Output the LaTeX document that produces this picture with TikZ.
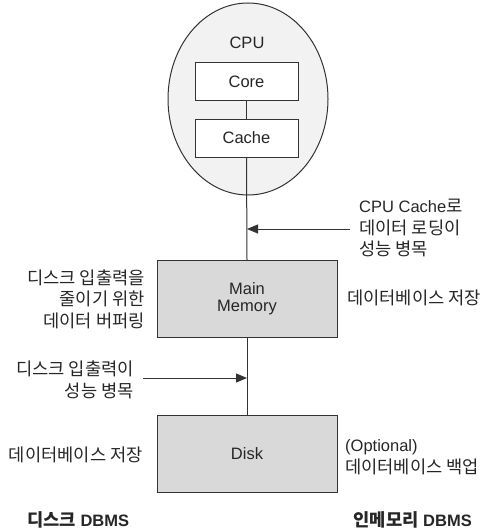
\documentclass[tikz,border=0pt]{standalone}
\usepackage{fontspec}
\setmainfont{Liberation Sans}
\newfontfamily\kr{Noto Sans CJK KR}[Scale=1.07]
\usetikzlibrary{shapes.geometric,arrows.meta}
\definecolor{txt}{HTML}{262626}
\definecolor{ln}{HTML}{333333}
\definecolor{cpufill}{HTML}{F2F2F2}
\definecolor{boxfill}{HTML}{D9D9D9}
\tikzset{
  base/.style={font=\fontsize{16.5}{21.5}\selectfont, text=txt},
  cpushape/.style={ellipse, draw=ln, line width=1pt, fill=cpufill, minimum width=160pt, minimum height=192pt, inner sep=0pt, outer sep=0pt},
  smallbox/.style={base, draw=ln, line width=1pt, fill=white, minimum width=103pt, minimum height=38pt, inner sep=0pt, outer sep=0pt},
  bigbox/.style={base, draw=ln, line width=1pt, fill=boxfill, minimum width=180pt, minimum height=77pt, inner sep=0pt, outer sep=0pt, align=center, font=\fontsize{16.5}{17.5}\selectfont},
  lbl/.style={base, inner sep=0pt},
  lblr/.style={lbl, anchor=east, align=right},
  lbll/.style={lbl, anchor=west, align=left},
  conn/.style={draw=ln, line width=1pt},
  arr/.style={conn, -{Triangle[length=11pt,width=9pt]}},
  title/.style={lbl, font=\fontsize{16.5}{21}\bfseries\selectfont}
}
\begin{document}
\begin{tikzpicture}[x=1pt,y=-1pt]
\useasboundingbox (0,0) rectangle (482,532);
% CPU
\node[cpushape] (cpu) at (248,99) {};
\node[lbl] (cpulbl) at (247,43) {CPU};
\node[smallbox] (core) at (246.5,81.5) {Core};
\node[smallbox] (cache) at (246.5,138) {Cache};
% memory and disk
\node[bigbox] (mem) at (247,298.5) {Main\\Memory};
\node[bigbox] (disk) at (247,453.5) {Disk};
% connectors
\draw[conn] (core.south) -- (cache.north);
\draw[conn] (cache.south) -- (mem.north);
\draw[conn] (mem.south) -- (disk.north);
% arrows
\coordinate (a1s) at (350,229);
\coordinate (a1e) at (247,229);
\coordinate (a2s) at (143,378);
\coordinate (a2e) at (247,378);
\draw[arr] (a1s) -- (a1e);
\draw[arr] (a2s) -- (a2e);
% labels
\node[lbll] (l1) at (359,228) {CPU Cache{\kr 로}\\{\kr 데이터 로딩이}\\{\kr 성능 병목}};
\node[lblr] (l2) at (145,299) {{\kr 디스크 입출력을}\\{\kr 줄이기 위한}\\{\kr 데이터 버퍼링}};
\node[lbll] (l3) at (347,298) {\kr 데이터베이스 저장};
\node[lblr] (l4) at (134,380) {{\kr 디스크 입출력이}\\{\kr 성능 병목}};
\node[lblr] (l5) at (143,455) {\kr 데이터베이스 저장};
\node[lbll] (l6) at (345,457) {(Optional)\\{\kr 데이터베이스 백업}};
\node[title, anchor=west] (t1) at (27,520) {{\kr\bfseries 디스크} DBMS};
\node[title, anchor=east] (t2) at (472,520) {{\kr\bfseries 인메모리} DBMS};
\end{tikzpicture}
\end{document}
